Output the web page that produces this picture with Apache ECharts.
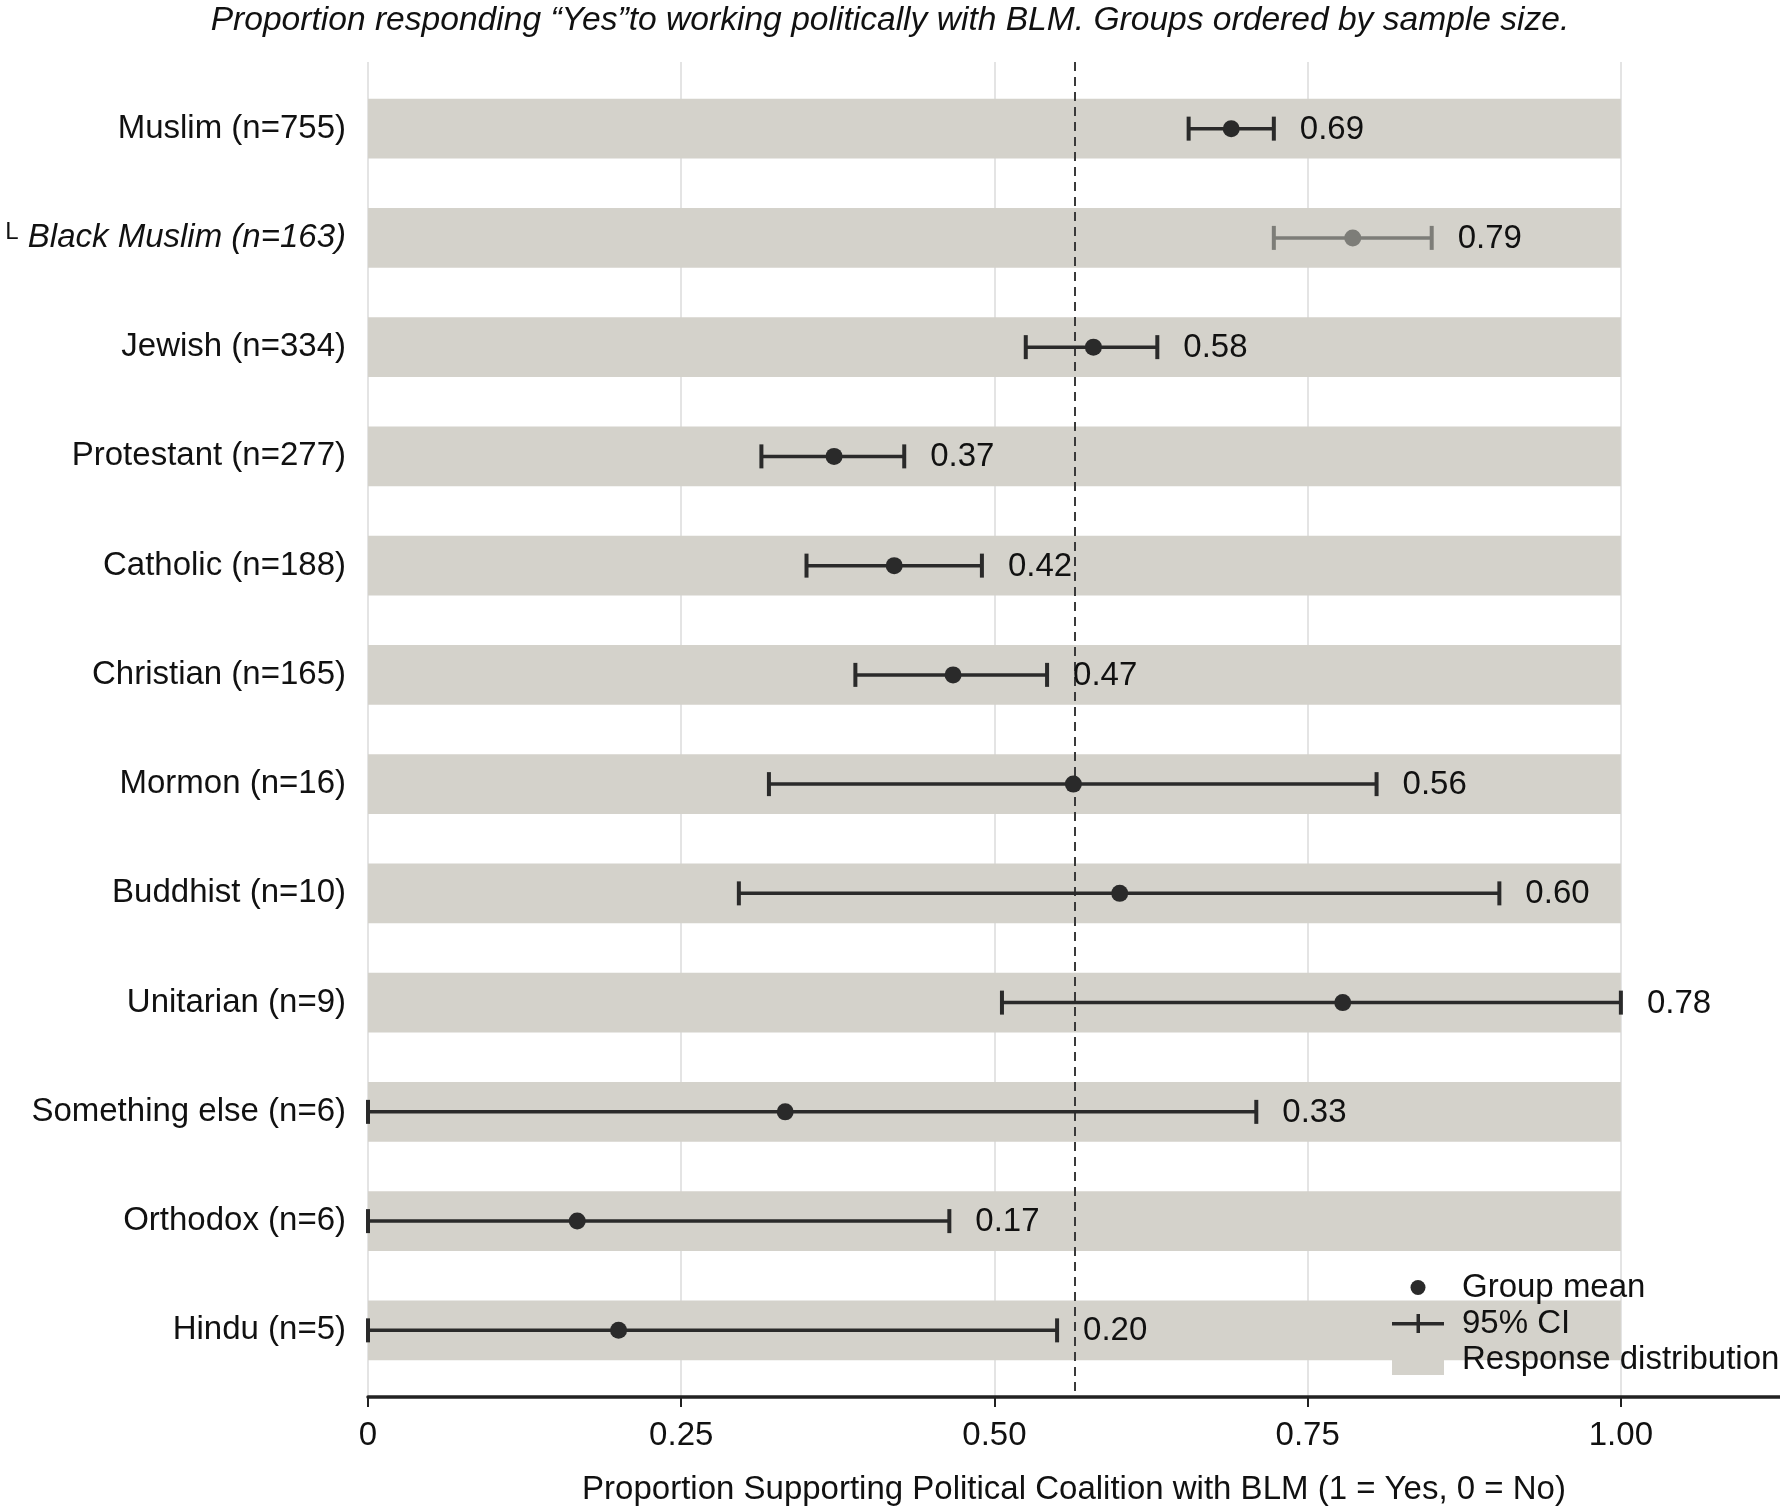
<!DOCTYPE html>
<html lang="en">
<head>
    <meta charset="UTF-8">
    <title>BLM coalition support by religious group</title>
    <script src="https://cdn.jsdelivr.net/npm/echarts@6/dist/echarts.min.js"></script>
</head>
<style>
    body { margin: 0; background: #fff; }
</style>
<body>
    <div id="box" style="width:1780px;height:1511px"></div>
</body>
<script>
    // groups, top to bottom
    const groups = ["Muslim", "Black Muslim", "Jewish", "Protestant", "Catholic", "Christian",
        "Mormon", "Buddhist", "Unitarian", "Something else", "Orthodox", "Hindu"];
    const sampleSizes = [755, 163, 334, 277, 188, 165, 16, 10, 9, 6, 6, 5];
    const means = [0.689, 0.786, 0.579, 0.372, 0.42, 0.467, 0.563, 0.60, 0.778, 0.333, 0.167, 0.20];
    const ciLow = [0.655, 0.723, 0.525, 0.314, 0.350, 0.389, 0.320, 0.296, 0.506, 0, 0, 0];
    const ciHigh = [0.723, 0.849, 0.630, 0.428, 0.490, 0.542, 0.805, 0.903, 1.0, 0.709, 0.464, 0.550];
    const overallMean = 0.564;
    const xTicks = [0, 0.25, 0.5, 0.75, 1.0];

    const FONT = "'Liberation Sans', Arial, Helvetica, sans-serif";
    const DARK = "#2a2a2a";
    const GREY = "#7d7d78";
    const BAND = "#d4d2cb";

    const rowIdx = groups.map((g, i) => i);

    var myChart = echarts.init(document.getElementById('box'));

    var option = {
        animation: false,
        backgroundColor: "#fff",
        textStyle: { fontFamily: FONT },
        title: {
            text: "Proportion responding \u201cYes\u201dto working politically with BLM. Groups ordered by sample size.",
            left: "center",
            top: 3,
            padding: 0,
            textStyle: {
                fontSize: 33.6, fontStyle: "italic", fontWeight: "normal",
                color: "#111", lineHeight: 36, fontFamily: FONT
            }
        },
        legend: {
            orient: "vertical",
            left: 1392,
            top: 1271,
            padding: 0,
            itemWidth: 52,
            itemHeight: 33,
            itemGap: 3,
            selectedMode: false,
            textStyle: { fontSize: 33, color: "#111", lineHeight: 33, padding: [0, 0, 0, 13], fontFamily: FONT },
            data: [
                { name: "Group mean", icon: "path://M0,0 M52,33 M26,9 A7.5,7.5 0 1 1 26,24 A7.5,7.5 0 1 1 26,9 Z", itemStyle: { color: DARK } },
                { name: "95% CI", icon: "path://M0,0 M52,33 M0,15h52v3.5h-52z M24.5,7h3.5v19h-3.5z", itemStyle: { color: DARK } },
                { name: "Response distribution", icon: "path://M0,0 M52,33 M0,12h52v20h-52z", itemStyle: { color: BAND } }
            ]
        },
        grid: { left: 368, right: 0, top: 62, bottom: 112 },
        xAxis: {
            type: "value",
            min: 0,
            max: 1.127,
            interval: 0.25,
            axisLine: { show: true, onZero: false, lineStyle: { color: "#222", width: 3.5 } },
            axisTick: { show: true, length: 10, lineStyle: { color: "#222", width: 2 }, customValues: xTicks },
            axisLabel: {
                customValues: xTicks,
                margin: 22,
                fontSize: 33,
                color: "#111",
                formatter: v => v === 0 ? "0" : v.toFixed(2)
            },
            splitLine: { show: true, lineStyle: { color: "#e4e4e4", width: 2 } },
            name: "Proportion Supporting Political Coalition with BLM (1 = Yes, 0 = No)",
            nameLocation: "middle",
            nameGap: 76,
            nameTextStyle: { fontSize: 33, color: "#111" }
        },
        yAxis: {
            type: "value",
            inverse: true,
            min: -0.61,
            max: 11.61,
            axisLine: { show: false },
            axisTick: { show: false },
            splitLine: { show: false },
            axisLabel: {
                customValues: rowIdx,
                margin: 22,
                fontSize: 33,
                color: "#111",
                formatter: v => {
                    const t = groups[v] + " (n=" + sampleSizes[v] + ")";
                    return v === 1 ? "{sup|L} {it|" + t + "}" : t;
                },
                rich: {
                    sup: { fontSize: 24, color: "#111", verticalAlign: "top", padding: [0, 0, 12, 0] },
                    it: { fontSize: 33, fontStyle: "italic", color: "#111" }
                }
            }
        },
        series: [
            {
                name: "Response distribution",
                type: "custom",
                z: 1,
                itemStyle: { color: BAND },
                data: rowIdx.map(i => [0, 1, i]),
                renderItem: function (params, api) {
                    const a = api.coord([api.value(0), api.value(2)]);
                    const b = api.coord([api.value(1), api.value(2)]);
                    const h = api.size([0, 0.545])[1];
                    return {
                        type: "rect",
                        shape: { x: a[0], y: a[1] - h / 2, width: b[0] - a[0], height: h },
                        style: { fill: BAND }
                    };
                }
            },
            {
                name: "95% CI",
                type: "custom",
                z: 3,
                itemStyle: { color: DARK },
                data: rowIdx.map(i => [ciLow[i], ciHigh[i], i, means[i]]),
                renderItem: function (params, api) {
                    const row = api.value(2);
                    const lo = api.coord([api.value(0), row]);
                    const hi = api.coord([api.value(1), row]);
                    const col = row === 1 ? GREY : DARK;
                    const cap = 12;
                    const ls = { stroke: col, lineWidth: 3.5 };
                    return {
                        type: "group",
                        children: [
                            { type: "line", shape: { x1: lo[0], y1: lo[1], x2: hi[0], y2: hi[1] }, style: ls },
                            { type: "line", shape: { x1: lo[0], y1: lo[1] - cap, x2: lo[0], y2: lo[1] + cap }, style: { stroke: col, lineWidth: 4 } },
                            { type: "line", shape: { x1: hi[0], y1: hi[1] - cap, x2: hi[0], y2: hi[1] + cap }, style: { stroke: col, lineWidth: 4 } },
                            {
                                type: "text",
                                style: {
                                    x: hi[0] + 26, y: hi[1] + 1,
                                    text: api.value(3).toFixed(2),
                                    fill: "#111",
                                    font: "33px " + FONT,
                                    verticalAlign: "middle", align: "left"
                                }
                            }
                        ]
                    };
                }
            },
            {
                name: "Group mean",
                type: "scatter",
                z: 4,
                symbol: "circle",
                symbolSize: 17,
                itemStyle: {
                    color: p => p.dataIndex === 1 ? GREY : DARK,
                    opacity: 1
                },
                data: rowIdx.map(i => [means[i], i]),
                markLine: {
                    silent: true,
                    symbol: "none",
                    precision: 4,
                    z: 2,
                    label: { show: false },
                    lineStyle: { type: [9, 6], color: "#3a3a3a", width: 2 },
                    data: [{ xAxis: overallMean }]
                }
            }
        ]
    };

    myChart.setOption(option);
</script>
</html>
